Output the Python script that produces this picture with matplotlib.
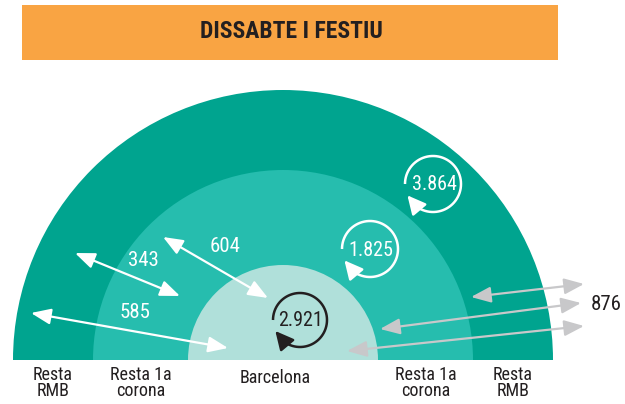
import numpy as np
import matplotlib
matplotlib.use("Agg")
import matplotlib.pyplot as plt
from matplotlib.patches import Wedge, Rectangle, FancyArrowPatch, ArrowStyle

# ---- data ----
title = "DISSABTE I FESTIU"
rings = ["Barcelona", "Resta 1a\ncorona", "Resta\nRMB"]
ring_colors = ["#B0E0DA", "#26BDAE", "#00A48F"]
internal_trips = ["2.921", "1.825", "3.864"]          # within each ring
cross_trips = ["604", "343", "585"]                    # Bcn<->1a, 1a<->RMB, Bcn<->RMB
external_trips = "876"

plt.rcParams['font.family'] = ['Roboto Condensed', 'DejaVu Sans']

W, H = 625, 404
fig = plt.figure(figsize=(W / 100, H / 100), dpi=100)
ax = fig.add_axes([0, 0, 1, 1])
ax.set_xlim(0, W)
ax.set_ylim(H, 0)
ax.axis('off')

dark = "#231F20"

# header
ax.add_patch(Rectangle((22, 5), 536, 55, color="#F9A443", lw=0))
ax.text(291, 31, title, ha='center', va='center', fontsize=17,
        fontweight='bold', color=dark)

cx, cy = 283, 360
radii = [95, 190, 270]
for r, c in reversed(list(zip(radii, ring_colors))):
    ax.add_patch(Wedge((cx, cy), r, 180, 360, color=c, lw=0))

# bottom labels
ax.text(cx - 8, 378, rings[0], ha='center', va='center', fontsize=13, color=dark)
for side in (-1, 1):
    for i, (r_in, r_out) in enumerate([(radii[0], radii[1]), (radii[1], radii[2])]):
        x = cx + side * (r_in + r_out) / 2
        ax.text(x, 383, rings[i + 1], ha='center', va='center', fontsize=13,
                color=dark, linespacing=0.92)

def dbl(p0, p1, color):
    st = ArrowStyle('<|-|>', head_length=1.5, head_width=0.6)
    ax.add_patch(FancyArrowPatch(p0, p1, arrowstyle=st, mutation_scale=8,
                                 color=color, lw=1.6, shrinkA=0, shrinkB=0))

# cross arrows (white)
dbl((75, 253), (180, 296), "white")
ax.text(143, 261, cross_trips[1], ha='center', va='center', fontsize=15, color='white')
dbl((163, 237), (268, 298), "white")
ax.text(225, 246, cross_trips[0], ha='center', va='center', fontsize=15, color='white')
dbl((31, 313), (228, 348), "white")
ax.text(135, 312, cross_trips[2], ha='center', va='center', fontsize=15, color='white')

# external (gray)
gray = "#C8C8CA"
dbl((471, 297), (584, 284), gray)
dbl((380, 329), (581, 303), gray)
dbl((347, 351), (584, 326), gray)
ax.text(606, 305, external_trips, ha='center', va='center', fontsize=15, color=dark)

def loop(center, r, text, color):
    x0, y0 = center
    t = np.radians(np.linspace(180, -126, 200))
    ax.plot(x0 + r * np.cos(t), y0 - r * np.sin(t), color=color, lw=1.8,
            solid_capstyle='butt')
    a0, a1 = np.radians(236), np.radians(204)
    p0 = (x0 + r * np.cos(a0), y0 - r * np.sin(a0))
    p1 = (x0 + r * np.cos(a1), y0 - r * np.sin(a1))
    ax.add_patch(FancyArrowPatch(p0, p1, arrowstyle=ArrowStyle('-|>', head_length=1.4, head_width=0.7),
                                 mutation_scale=8, color=color, lw=1.8,
                                 shrinkA=0, shrinkB=0))
    ax.text(x0 + 1, y0 + 1, text, ha='center', va='center', fontsize=14.5, color=color)

loop((300, 320), 27, internal_trips[0], dark)
loop((370, 249), 28, internal_trips[1], "white")
loop((433, 184), 28, internal_trips[2], "white")

fig.savefig("out.png", dpi=100)
